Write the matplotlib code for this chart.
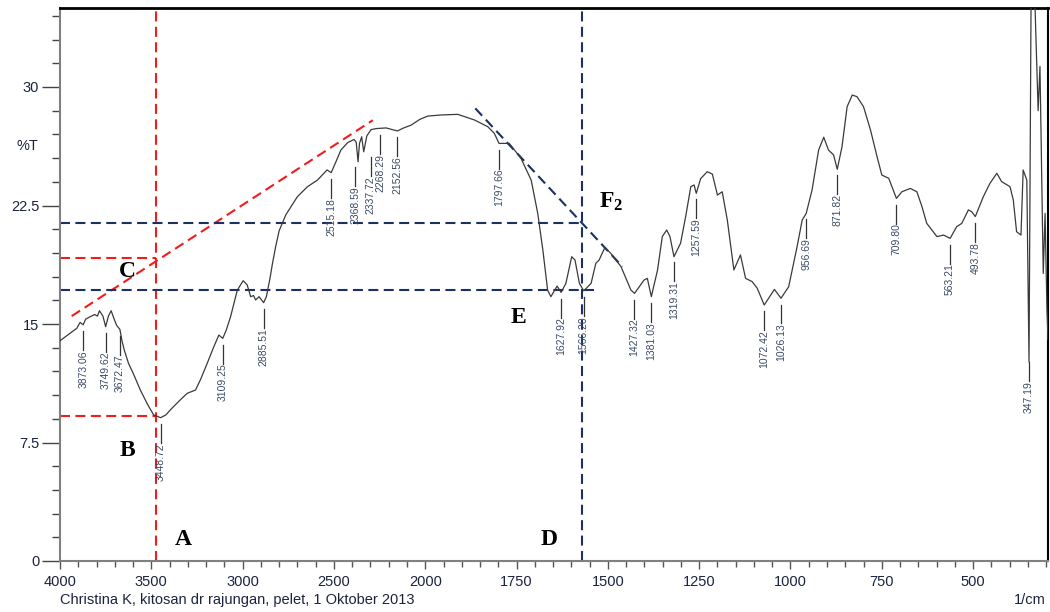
import numpy as np
import matplotlib
matplotlib.use("Agg")
import matplotlib.pyplot as plt
from matplotlib.transforms import offset_copy

plt.rcParams['font.family'] = ['Liberation Sans', 'DejaVu Sans']
plt.rcParams['mathtext.fontset'] = 'custom'
plt.rcParams['mathtext.rm'] = 'Liberation Serif'
plt.rcParams['mathtext.bf'] = 'Liberation Serif:bold'

# spectrum (1/cm, %T)
wavenumber = [4000, 3908, 3890, 3873, 3860, 3835, 3810, 3795, 3784, 3765, 3750, 3735,
              3720, 3700, 3689, 3672, 3660, 3648, 3625, 3600, 3560, 3520, 3487, 3449,
              3420, 3396, 3350, 3304, 3258, 3230, 3194, 3160, 3130, 3109, 3090, 3066,
              3029, 2997, 2975, 2956, 2940, 2929, 2910, 2895, 2885, 2870, 2850, 2837,
              2819, 2800, 2764, 2700, 2645, 2590, 2538, 2515, 2489, 2462, 2425, 2390,
              2378, 2368, 2360, 2348, 2337, 2320, 2297, 2268, 2214, 2180, 2152, 2120,
              2077, 2030, 1993, 1956, 1911, 1865, 1829, 1811, 1798, 1770, 1738, 1710,
              1692, 1678, 1665, 1656, 1639, 1628, 1615, 1599, 1590, 1578, 1566, 1546,
              1533, 1524, 1508, 1492, 1464, 1437, 1427, 1401, 1392, 1381, 1364, 1351,
              1339, 1330, 1319, 1301, 1287, 1273, 1264, 1258, 1246, 1228, 1214, 1200,
              1187, 1173, 1155, 1137, 1123, 1105, 1091, 1072, 1044, 1026, 1005, 982,
              968, 957, 941, 923, 909, 896, 882, 872, 859, 845, 831, 818, 800, 781,
              763, 750, 731, 710, 695, 672, 654, 640, 627, 599, 581, 563, 545, 531,
              513, 504, 494, 472, 454, 435, 422, 399, 390, 381, 369, 363, 353, 347,
              341, 333, 322, 317, 308, 303, 298, 295]
transmittance = [13.94, 14.73, 15.1, 14.95, 15.3, 15.46, 15.6, 15.5, 15.84, 15.5, 14.83, 15.5,
                 15.84, 15.2, 14.9, 14.66, 13.9, 13.35, 12.51, 11.9, 10.82, 9.9, 9.24, 9.07,
                 9.25, 9.56, 10.1, 10.61, 10.82, 11.5, 12.51, 13.5, 14.3, 14.09, 14.6, 15.46,
                 17.15, 17.74, 17.47, 16.73, 16.8, 16.52, 16.73, 16.5, 16.35, 16.73, 17.9, 18.8,
                 19.9, 20.9, 21.9, 23.06, 23.69, 24.11, 24.75, 24.58, 25.27, 26.01, 26.48, 26.68,
                 26.5, 25.27, 26.43, 26.85, 25.9, 26.9, 27.3, 27.37, 27.41, 27.3, 27.22, 27.4,
                 27.59, 27.95, 28.16, 28.23, 28.27, 27.91, 27.49, 27.07, 26.43, 26.43, 25.49, 24.11,
                 22.0, 19.68, 17.15, 16.73, 17.4, 17.0, 17.57, 19.26, 19.05, 17.57, 17.1, 17.57,
                 18.84, 19.05, 19.85, 19.47, 18.63, 17.15, 16.94, 17.78, 17.89, 16.73, 18.42, 20.53,
                 20.95, 20.53, 19.26, 20.11, 21.8, 23.69, 23.8, 23.27, 24.2, 24.64, 24.49, 23.16,
                 23.37, 21.58, 18.42, 19.37, 17.89, 17.68, 17.26, 16.2, 17.19, 16.63, 17.36, 19.89,
                 21.58, 22.0, 23.48, 26.01, 26.82, 26.01, 25.7, 24.79, 26.22, 28.75, 29.49, 29.39, 28.75, 27.28,
                 25.59, 24.43, 24.22, 22.95, 23.37, 23.58, 23.37, 22.42, 21.37, 20.53, 20.63, 20.42, 21.16, 21.37,
                 22.22, 22.11, 21.8, 23.06, 23.9, 24.54, 24.01, 23.69, 22.85, 20.84, 20.63, 24.75, 24.11, 12.6,
                 37.0, 37.0, 28.5, 31.3, 18.2, 22.0, 16.0, 14.0]

peaks = [3873.06, 3749.62, 3672.47, 3448.72, 3109.25, 2885.51, 2515.18, 2368.59,
         2337.72, 2268.29, 2152.56, 1797.66, 1627.92, 1566.20, 1427.32, 1381.03,
         1319.31, 1257.59, 1072.42, 1026.13, 956.69, 871.82, 709.80, 563.21,
         493.78, 347.19]
peak_nudge = {2368.59: -2, 2337.72: 5, 2268.29: 3}

x_major = [4000, 3500, 3000, 2500, 2000, 1750, 1500, 1250, 1000, 750, 500]
y_major = [0, 7.5, 15, 22.5, 30]
y_labels = ['0', '7.5', '15', '22.5', '30']

# guide lines drawn on the spectrum
red_vline = 3474
red_hlines = [9.18, 19.2]
red_diag_x = [3936, 2287]
red_diag_y = [15.5, 27.9]
navy_vline = 1571
navy_hlines = [(21.41, 1571), (17.15, 1537)]
navy_diag_x = [1863, 1460]
navy_diag_y = [28.65, 18.63]

letters = [('A', 3324, 1.35), ('B', 3632, 7.0), ('C', 3632, 18.3),
           ('D', 1661, 1.35), ('E', 1746, 15.4), (r'$\mathbf{F_2}$', 1492, 22.7)]


# instrument scale: 500 1/cm per division above 2000, 250 below
def fwd(x):
    x = np.asarray(x, dtype=float)
    return np.where(x >= 2000, (x - 4000) / 500, -4 - (2000 - x) / 250)


def inv(p):
    p = np.asarray(p, dtype=float)
    return np.where(p >= -4, 4000 + 500 * p, 2000 + 250 * (p + 4))


fig = plt.figure(figsize=(10.5, 6.12), dpi=100)
ax = fig.add_axes([60 / 1050, 1 - 561 / 612, 988 / 1050, 553 / 612])
ax.set_xscale('function', functions=(fwd, inv))
ax.set_xlim(4000, 295)
ax.set_ylim(0, 35)

ax.plot(wavenumber, transmittance, color='#3a3a3a', lw=0.9, zorder=3)

red = '#f21c1c'
navy = '#1b3163'
dash = (0, (4.8, 2.6))
ax.plot([red_vline, red_vline], [0, 35], color=red, lw=1.5, ls=dash, zorder=2)
for yv in red_hlines:
    ax.plot([4000, red_vline], [yv, yv], color=red, lw=1.5, ls=dash, zorder=2)
ax.plot(red_diag_x, red_diag_y, color=red, lw=1.5, ls=dash, zorder=2)
ax.plot([navy_vline, navy_vline], [0, 35], color=navy, lw=1.5, ls=dash, zorder=2)
for yv, xend in navy_hlines:
    ax.plot([4000, xend], [yv, yv], color=navy, lw=1.5, ls=dash, zorder=2)
ax.plot(navy_diag_x, navy_diag_y, color=navy, lw=1.5, ls=dash, zorder=2)

for txt, xv, yv in letters:
    ax.text(xv, yv, txt, fontsize=17, fontweight='bold', family='Liberation Serif',
            ha='center', va='center', color='black', zorder=4)

# peak markers
wn_inc = np.array(wavenumber[::-1], dtype=float)
tr_inc = np.array(transmittance[::-1], dtype=float)
for pk in peaks:
    yc = np.interp(pk, wn_inc, tr_inc)
    top = yc - 0.4
    bot = top - 1.2
    tr = offset_copy(ax.transData, fig=fig, x=peak_nudge.get(pk, 0), y=0, units='points')
    ax.plot([pk, pk], [top, bot], color='#333333', lw=0.9, transform=tr, zorder=3)
    ax.text(pk, bot, f'{pk:.2f}', rotation=90, ha='center', va='top', fontsize=7.5,
            color='#3b4a66', transform=tr, zorder=3)

ax.set_xticks(x_major)
ax.set_xticklabels([str(v) for v in x_major])
minor_x = [v for v in list(range(3900, 2000, -100)) + list(range(1950, 295, -50)) if v not in x_major]
ax.set_xticks(minor_x, minor=True)
ax.set_yticks(y_major)
ax.set_yticklabels(y_labels)
ax.set_yticks(np.arange(0, 35, 1.5), minor=True)

ax.tick_params(axis='x', which='major', length=6, width=1, color='#555555', pad=4,
               labelsize=10.5, labelcolor='#1c2340')
ax.tick_params(axis='x', which='minor', length=4, width=1, color='#555555')
ax.tick_params(axis='y', which='major', length=13, width=1, color='#444444', pad=2,
               labelsize=10.5, labelcolor='#1c2340')
ax.tick_params(axis='y', which='minor', length=6, width=1, color='#444444')

ax.spines['left'].set_color('#808080')
ax.spines['left'].set_linewidth(1.5)
ax.spines['bottom'].set_color('#808080')
ax.spines['bottom'].set_linewidth(1.5)
ax.spines['top'].set_color('black')
ax.spines['top'].set_linewidth(2)
ax.spines['right'].set_color('black')
ax.spines['right'].set_linewidth(1.5)

fig.text(38 / 1050, 1 - 146 / 612, '%T', ha='right', va='center', fontsize=10.5, color='#1c2340')
fig.text(60 / 1050, 1 - 600 / 612, 'Christina K, kitosan dr rajungan, pelet, 1 Oktober 2013',
         ha='left', va='center', fontsize=10.5, color='#1c2340')
fig.text(1046 / 1050, 1 - 600 / 612, '1/cm', ha='right', va='center', fontsize=10.5, color='#1c2340')

fig.savefig('out.png', dpi=100)
